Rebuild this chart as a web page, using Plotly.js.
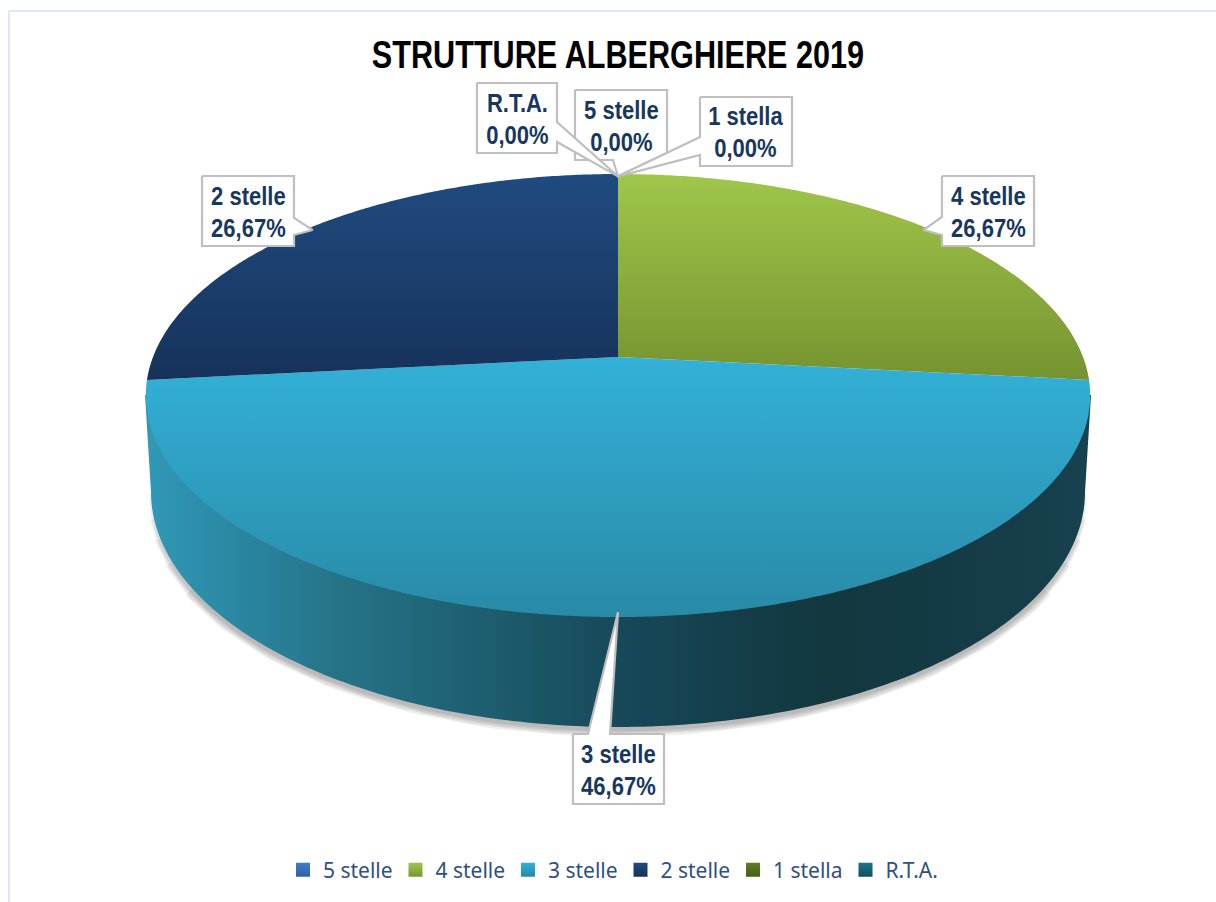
<!DOCTYPE html>
<html>
<head>
<meta charset="utf-8">
<script src="https://cdn.plot.ly/plotly-3.0.1.min.js"></script>
<style>html,body{margin:0;padding:0;background:#fff;overflow:hidden}#chart{width:1216px;height:902px}</style>
</head>
<body>
<div id="chart"></div>
<script>
// ---- data ----
const categories = ['5 stelle', '4 stelle', '3 stelle', '2 stelle', '1 stella', 'R.T.A.'];
const percentages = [0.00, 26.67, 46.67, 26.67, 0.00, 0.00];
const percentLabels = ['0,00%', '26,67%', '46,67%', '26,67%', '0,00%', '0,00%'];
const chartTitle = 'STRUTTURE ALBERGHIERE 2019';

// ---- styles ----
const topGradients = [
  ['#5b8fd6', '#2f6cb5'], ['#a0c64b', '#76932f'], ['#33b1d8', '#298aa7'],
  ['#204b80', '#16325a'], ['#6a8a2c', '#465f1a'], ['#1d7488', '#12505f']
];
const legendColors = ['#3f7cc8', '#a0c64b', '#33b1d8', '#204b80', '#5f7d26', '#1d7488'];
const legendDark = ['#2f62a5', '#7a9632', '#258aa8', '#16325a', '#465f1a', '#12505f'];
const wallStops = [
  [0, '#3199b8'], [0.1, '#2a86a1'], [0.2, '#267489'], [0.38, '#1c5b6c'], [0.5, '#174959'],
  [0.63, '#143d4a'], [0.72, '#13383f'], [0.85, '#143a45'], [1, '#17424f']
];
const textBlue = '#17375f';
const calloutGrey = '#bfbfbf';
const labelFont = '"Liberation Sans",Arial,sans-serif';

// ---- projection of the tilted disc onto the page ----
const apex = {x: 618, y: 357};
const k = 0.1738, ax = 465, ay = 214.8;
function disc(deg, r) {
  const t = deg * Math.PI / 180, u = r * Math.sin(t), v = r * Math.cos(t);
  const d = 1 + k * v;
  return [apex.x + ax * u / d, apex.y - ay * v / d];
}
const lower = {cx: 618, cy: 492, rx: 467, ry: 235};

// slice angle ranges from the values
const total = percentages.reduce((a, b) => a + b, 0);
let acc = 0;
const ranges = percentages.map(p => {
  const a0 = acc / total * 360; acc += p; const a1 = acc / total * 360;
  return [a0, a1];
});

const traces = [];

// soft shadow beneath the wall: wider layers start lower so the ends taper away
[[16, 24], [13, 17], [10, 11], [7, 6], [4, 0]].forEach(([w, start]) => {
  const sx = [], sy = [];
  for (let a = start; a <= 180 - start; a += 1) {
    const t = a * Math.PI / 180;
    sx.push(lower.cx - lower.rx * Math.cos(t));
    sy.push(lower.cy + 2 + lower.ry * Math.sin(t));
  }
  traces.push({
    type: 'scatter', mode: 'lines', x: sx, y: sy, showlegend: false, hoverinfo: 'skip',
    line: {color: 'rgba(70,70,70,0.085)', width: w}
  });
});

// side wall
const wallX = [], wallY = [];
for (let a = 0; a <= 180; a += 1) {
  const t = a * Math.PI / 180;
  wallX.push(lower.cx - lower.rx * Math.cos(t));
  wallY.push(lower.cy + lower.ry * Math.sin(t));
}
wallX.push(1091, 618, 145); wallY.push(395, 395, 395);
traces.push({
  type: 'scatter', mode: 'none', x: wallX, y: wallY, fill: 'toself', showlegend: false, hoverinfo: 'skip',
  fillgradient: {type: 'horizontal', colorscale: wallStops}
});

// top face slices
categories.forEach((name, i) => {
  const [a0, a1] = ranges[i];
  if (a1 <= a0) return;
  const xs = [apex.x], ys = [apex.y];
  const n = Math.ceil(a1 - a0) * 2;
  for (let s = 0; s <= n; s++) {
    const p = disc(a0 + (a1 - a0) * s / n, 1);
    xs.push(p[0]); ys.push(p[1]);
  }
  xs.push(apex.x); ys.push(apex.y);
  traces.push({
    type: 'scatter', mode: 'none', x: xs, y: ys, fill: 'toself', showlegend: false, name: name,
    text: name + ' ' + percentLabels[i], hoverinfo: 'text',
    fillgradient: {type: 'vertical', colorscale: [[0, topGradients[i][1]], [1, topGradients[i][0]]]}
  });
});

// callouts: box [left, right, top, bottom] and wedge base along the facing edge
const callouts = {
  '5 stelle': {box: [575, 667, 90, 160], side: 'bottom', base: [613, 652]},
  '4 stelle': {box: [942, 1034, 176, 246], side: 'left', base: [217, 235]},
  '3 stelle': {box: [573, 664, 734, 804], side: 'top', base: [588, 610]},
  '2 stelle': {box: [202, 294, 176, 246], side: 'right', base: [218, 235]},
  '1 stella': {box: [700, 792, 97, 166], side: 'left', base: [137, 155]},
  'R.T.A.': {box: [477, 557, 83, 153], side: 'right', base: [122, 142]}
};
const annotations = [];
categories.forEach((name, i) => {
  const c = callouts[name], [l, r, t, b] = c.box;
  const tip = disc((ranges[i][0] + ranges[i][1]) / 2, 0.985);
  let xs, ys;
  if (c.side === 'bottom') {
    xs = [l, r, r, c.base[1], tip[0], c.base[0], l, l];
    ys = [t, t, b, b, tip[1], b, b, t];
  } else if (c.side === 'top') {
    xs = [l, c.base[0], tip[0], c.base[1], r, r, l, l];
    ys = [t, t, tip[1], t, t, b, b, t];
  } else if (c.side === 'left') {
    xs = [l, r, r, l, l, tip[0], l, l];
    ys = [t, t, b, b, c.base[1], tip[1], c.base[0], t];
  } else {
    xs = [l, r, r, tip[0], r, r, l, l];
    ys = [t, t, c.base[0], tip[1], c.base[1], b, b, t];
  }
  traces.push({
    type: 'scatter', mode: 'lines', x: xs, y: ys, fill: 'toself', fillcolor: '#ffffff',
    line: {color: calloutGrey, width: 2.2}, showlegend: false, hoverinfo: 'skip'
  });
  annotations.push({
    x: (l + r) / 2, y: (t + b) / 2 + 1, xref: 'x', yref: 'y', showarrow: false,
    text: name + '<br>' + percentLabels[i], align: 'center',
    font: {family: labelFont, size: 25, color: textBlue, weight: 700}
  });
});

// legend entries
categories.forEach((name, i) => traces.push({
  type: 'scatter', mode: 'markers', x: [null], y: [null], name: name, showlegend: true, hoverinfo: 'skip',
  marker: {symbol: 'square', size: 14, color: legendColors[i], gradient: {type: 'vertical', color: legendDark[i]}}
}));

const layout = {
  width: 1216, height: 902,
  margin: {l: 0, r: 0, t: 0, b: 0},
  paper_bgcolor: '#ffffff', plot_bgcolor: '#ffffff',
  hovermode: 'closest',
  title: {
    text: chartTitle, x: 618 / 1216, xanchor: 'center', y: 1 - 55 / 902, yanchor: 'middle',
    font: {family: labelFont, size: 38, color: '#000000', weight: 700}
  },
  xaxis: {range: [0, 1216], visible: false, fixedrange: true},
  yaxis: {range: [902, 0], visible: false, fixedrange: true},
  shapes: [
    {type: 'line', xref: 'x', yref: 'y', x0: 9, x1: 9, y0: 11, y1: 902, line: {color: '#dce8f8', width: 2}},
    {type: 'line', xref: 'x', yref: 'y', x0: 9, x1: 1216, y0: 11, y1: 11, line: {color: '#dce8f8', width: 2}}
  ],
  annotations: annotations,
  legend: {
    orientation: 'h', x: 283 / 1216, xanchor: 'left', y: 1 - 870 / 902, yanchor: 'middle',
    entrywidth: 67.5, entrywidthmode: 'pixels', itemclick: false, itemdoubleclick: false,
    traceorder: 'normal', bgcolor: 'rgba(0,0,0,0)',
    font: {family: '"Noto Sans",sans-serif', size: 21, color: '#2f4f80'}
  }
};

// the reference uses a condensed bold face; squeeze the installed one to the same width
function condense(selector, factor) {
  document.querySelectorAll(selector).forEach(el => {
    el.style.transformBox = 'fill-box';
    el.style.transformOrigin = 'center';
    el.style.transform = 'scaleX(' + factor + ')';
  });
}
Plotly.newPlot('chart', traces, layout, {displayModeBar: false}).then(() => {
  condense('text.gtitle', 0.806);
  condense('.annotation-text', 0.88);
});
</script>
</body>
</html>
